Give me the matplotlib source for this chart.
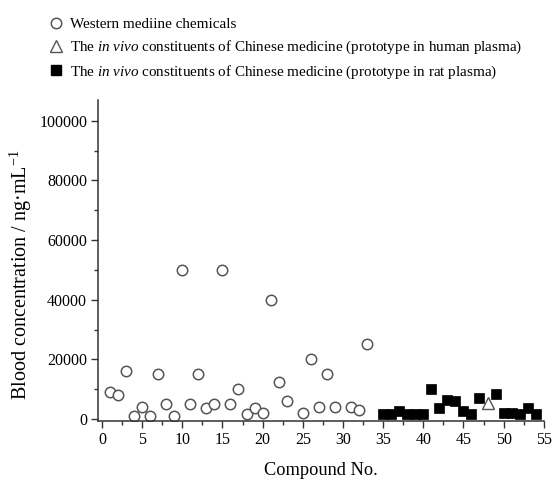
import numpy as np
import matplotlib.pyplot as plt
from matplotlib.lines import Line2D
from matplotlib.ticker import MultipleLocator

plt.rcParams['font.family'] = 'Liberation Serif'
plt.rcParams['mathtext.fontset'] = 'custom'
plt.rcParams['mathtext.rm'] = 'Liberation Serif'
plt.rcParams['mathtext.it'] = 'Liberation Serif:italic'

# western medicine chemicals (hollow circles)
west_x = [1, 2, 3, 4, 5, 6, 7, 8, 9, 10, 11, 12, 13, 14, 15, 16, 17, 18, 19, 20,
          21, 22, 23, 25, 26, 27, 28, 29, 31, 32, 33]
west_y = [9000, 8000, 16000, 1000, 4000, 1000, 15000, 5000, 1000, 50000, 5000, 15000,
          3500, 5000, 50000, 5000, 10000, 1500, 3500, 2000, 40000, 12500, 6000, 2000,
          20000, 4000, 15000, 4000, 4000, 3000, 25000]

# prototype in human plasma (hollow triangle)
human_x = [48]
human_y = [5500]

# prototype in rat plasma (filled squares)
rat_x = [35, 36, 37, 38, 39, 40, 41, 42, 43, 44, 45, 46, 47, 49, 50, 51, 52, 53, 54]
rat_y = [1500, 1500, 2500, 1500, 1700, 1700, 10000, 3500, 6500, 6000, 2500, 1500,
         7000, 8500, 2000, 2000, 1500, 3500, 1500]

fig = plt.figure(figsize=(5.56, 4.8), dpi=100)
ax = fig.add_axes([0.1768, 0.1235, 0.8012, 0.6682])

ax.plot(west_x, west_y, 'o', ms=7.5, mfc='white', mec='#555555', mew=1.1, ls='none')
ax.plot(rat_x, rat_y, 's', ms=7.2, mfc='black', mec='black', mew=0.5, ls='none')
ax.plot(human_x, human_y, '^', ms=8, mfc='white', mec='#555555', mew=1.0, ls='none')

ax.set_xlim(-0.45, 55)
ax.set_ylim(-600, 107000)
ax.xaxis.set_major_locator(MultipleLocator(5))
ax.xaxis.set_minor_locator(MultipleLocator(2.5))
ax.yaxis.set_minor_locator(MultipleLocator(10000))
ax.set_yticks([0, 20000, 40000, 60000, 80000, 100000])

for s in ['top', 'right']:
    ax.spines[s].set_visible(False)
for s in ['left', 'bottom']:
    ax.spines[s].set_linewidth(1.1)
    ax.spines[s].set_color('#333333')
ax.tick_params(which='major', direction='out', length=5, width=1.0, color='#333333',
               labelsize=11.5, pad=3)
ax.tick_params(which='minor', direction='out', length=3, width=1.0, color='#333333')

ax.set_xlabel('Compound No.', fontsize=13.2, labelpad=10)
ax.set_ylabel('Blood concentration / ng·mL$^{\\mathregular{-1}}$', fontsize=14.5)
# label sits a little below the axes middle in the source
ax.yaxis.set_label_coords(-0.145, 0.455)

handles = [
    Line2D([], [], marker='o', ls='none', ms=7.5, mfc='white', mec='#555555', mew=1.1),
    Line2D([], [], marker='^', ls='none', ms=8, mfc='white', mec='#555555', mew=1.0),
    Line2D([], [], marker='s', ls='none', ms=7, mfc='black', mec='black'),
]
labels = [
    'Western mediine chemicals',
    r'The $\it{in\ vivo}$ constituents of Chinese medicine (prototype in human plasma)',
    r'The $\it{in\ vivo}$ constituents of Chinese medicine (prototype in rat plasma)',
]
fig.legend(handles, labels, loc='upper left', bbox_to_anchor=(0.058, 0.995),
           frameon=False, fontsize=10.9, handletextpad=0.3, labelspacing=0.5,
           handlelength=1.2, borderpad=0.5)

fig.savefig('out.png', dpi=100)
